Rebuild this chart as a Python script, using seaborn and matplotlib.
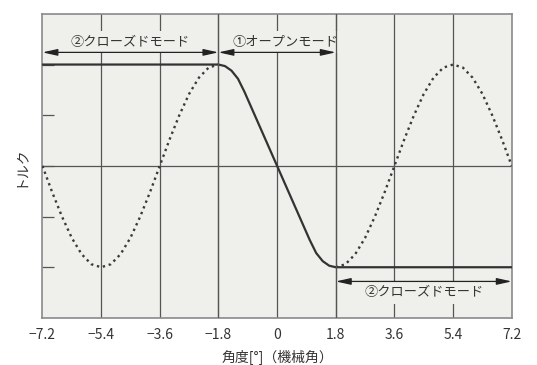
import matplotlib
matplotlib.use("Agg")
import matplotlib.pyplot as plt
import seaborn as sns
import pandas as pd

# Values
x_ticks = [-7.2, -5.4, -3.6, -1.8, 0, 1.8, 3.6, 5.4, 7.2]
y_ticks = [-1.0, -0.5, 0.0, 0.5, 1.0]

# solid curve (torque with the mode switch)
solid_x = [-7.2, -1.8, -1.6, -1.4, -1.2, -1.0, 0.0, 1.0, 1.2, 1.4, 1.6, 1.8, 7.2]
solid_y = [1.0, 1.0, 0.985, 0.94, 0.86, 0.73, 0.0, -0.73, -0.86, -0.94, -0.985, -1.0, -1.0]

# dotted curve, left part and right part
dot_left_x = [-7.2, -6.9, -6.6, -6.3, -6.0, -5.7, -5.4, -5.1, -4.8, -4.5,
              -4.2, -3.9, -3.6, -3.3, -3.0, -2.7, -2.4, -2.1, -1.8]
dot_left_y = [0.0, -0.26, -0.5, -0.71, -0.87, -0.97, -1.0, -0.97, -0.87, -0.71,
              -0.5, -0.26, 0.0, 0.26, 0.5, 0.71, 0.87, 0.97, 1.0]
dot_right_x = [1.8, 2.1, 2.4, 2.7, 3.0, 3.3, 3.6, 3.9, 4.2, 4.5,
               4.8, 5.1, 5.4, 5.7, 6.0, 6.3, 6.6, 6.9, 7.2]
dot_right_y = [-1.0, -0.97, -0.87, -0.71, -0.5, -0.26, 0.0, 0.26, 0.5, 0.71,
               0.87, 0.97, 1.0, 0.97, 0.87, 0.71, 0.5, 0.26, 0.0]

# mode ranges: label, start, end, arrow level, text level
mode_labels = ["②クローズドモード", "①オープンモード", "②クローズドモード"]
mode_start = [-7.2, -1.8, 1.8]
mode_end = [-1.8, 1.8, 7.2]
mode_arrow_y = [1.12, 1.12, -1.14]
mode_text_y = [1.22, 1.22, -1.25]
mode_text_x = [-4.5, 0.25, 4.5]

sns.set_theme(style="ticks")
plt.rcParams["font.family"] = ["Noto Sans CJK JP", "DejaVu Sans"]

bg = "#efefeb"
grid_c = "#555555"
ink = "#333333"

fig = plt.figure(figsize=(5.37, 3.65), dpi=100)
ax = fig.add_axes([0.079, 0.129, 0.874, 0.833])
ax.set_facecolor(bg)

# grid lines
for xv in x_ticks[1:-1]:
    ax.axvline(xv, color=grid_c, lw=0.9, zorder=1)
ax.axhline(0, color=grid_c, lw=0.9, zorder=1)

solid = pd.DataFrame({"x": solid_x, "y": solid_y})
left = pd.DataFrame({"x": dot_left_x, "y": dot_left_y})
right = pd.DataFrame({"x": dot_right_x, "y": dot_right_y})

sns.lineplot(data=left, x="x", y="y", ax=ax, color="#3a3a3a", lw=1.7,
             linestyle=(0, (1, 1.6)), estimator=None, sort=False, zorder=3)
sns.lineplot(data=right, x="x", y="y", ax=ax, color="#3a3a3a", lw=1.7,
             linestyle=(0, (1, 1.6)), estimator=None, sort=False, zorder=3)
sns.lineplot(data=solid, x="x", y="y", ax=ax, color=ink, lw=1.6,
             estimator=None, sort=False, zorder=4)

# mode annotations
for lab, x0, x1, ya, xt, yt in zip(mode_labels, mode_start, mode_end,
                                   mode_arrow_y, mode_text_x, mode_text_y):
    ax.text(xt, yt, lab, ha="center", va="center", fontsize=9.5, color=ink,
            zorder=5, bbox=dict(boxstyle="square,pad=0.35", fc=bg, ec="none"))
    ax.annotate("", xy=(x1, ya), xytext=(x0, ya), zorder=6,
                arrowprops=dict(arrowstyle="<|-|>,head_length=0.9,head_width=0.2",
                                color="#222222", lw=0.9, mutation_scale=10,
                                shrinkA=0, shrinkB=0))

# mode boundaries stay on top of the label boxes
for xv in [-1.8, 1.8]:
    ax.axvline(xv, color=grid_c, lw=0.9, zorder=5.5)

ax.set_xlim(-7.2, 7.2)
ax.set_ylim(-1.5, 1.5)
ax.set_xticks(x_ticks)
ax.set_xticklabels([f"{v:g}".replace("-", "−") for v in x_ticks])
ax.set_yticks(y_ticks)
ax.set_yticklabels([])
ax.tick_params(axis="x", length=0, pad=7, labelsize=10, colors=ink)
ax.tick_params(axis="y", direction="in", length=8.5, width=0.9, color=grid_c)

for s in ax.spines.values():
    s.set_visible(True)
    s.set_color("#8a8a8a")
    s.set_linewidth(1.2)

ax.set_xlabel("角度[°]（機械角）", fontsize=10, color=ink, labelpad=6)
ax.set_ylabel("トルク", fontsize=10, color=ink, labelpad=8)

fig.savefig("out.png", dpi=100, facecolor="white")
